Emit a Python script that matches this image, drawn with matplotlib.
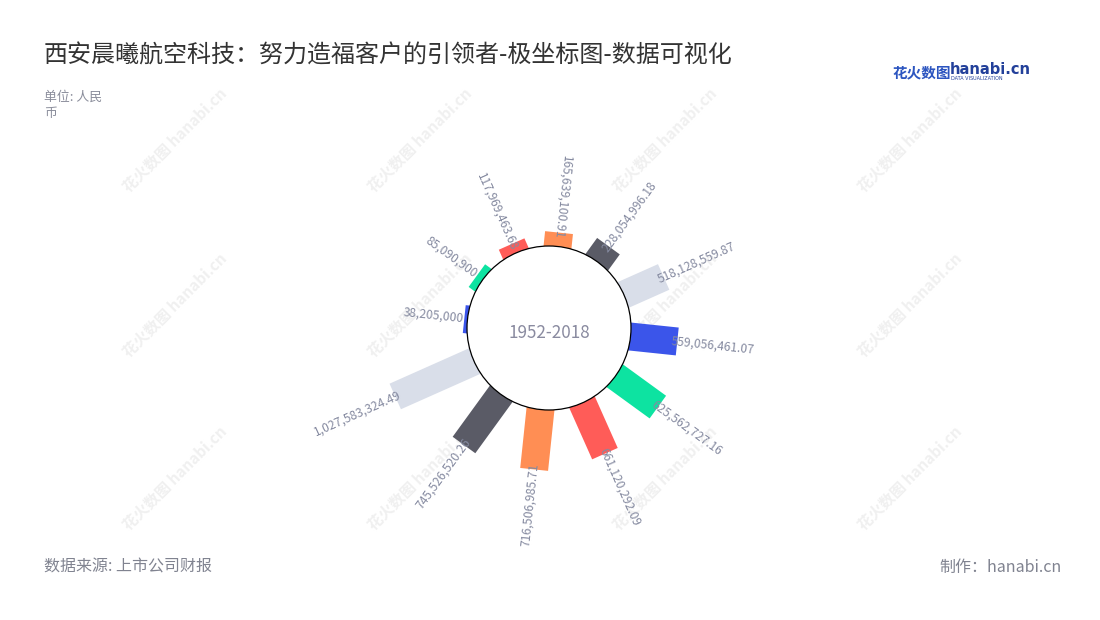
import numpy as np
import matplotlib
matplotlib.use('Agg')
from matplotlib import pyplot as plt
from matplotlib.patches import Polygon, Circle

plt.rcParams['font.family'] = ['Noto Sans CJK SC', 'DejaVu Sans']

values = [38205000, 85090900, 117969463.68, 165639100.91, 228054996.18,
          518128559.87, 559056461.07, 625562727.16, 661120292.09,
          716506985.71, 745526520.26, 1027583324.49]
colors = ['#3b55ea', '#0de3a1', '#ff5c58', '#ff8e54', '#5a5b66', '#d9dee9']
center_label = '1952-2018'

title = '西安晨曦航空科技：努力造福客户的引领者-极坐标图-数据可视化'
unit = '单位: 人民\n币'
source = '数据来源: 上市公司财报'
maker = '制作：hanabi.cn'

fig = plt.figure(figsize=(11, 6.2), dpi=100)

# chart axes, centre at (549, 328) px, 84 px per 1e9
px = 84 / 1e9
half = 250
cx, cy = 549, 328
ax = fig.add_axes([(cx - half) / 1100, (620 - cy - half) / 620, 2 * half / 1100, 2 * half / 620])
R = half / px
ax.set_xlim(-R, R)
ax.set_ylim(-R, R)
ax.set_aspect('equal')
ax.axis('off')

r0 = 82 / px
bw = 28 / px
start = 276  # clockwise from north, first category
for i, v in enumerate(values):
    a = np.deg2rad(90 - (start + 30 * i))
    u = np.array([np.cos(a), np.sin(a)])
    n = np.array([-u[1], u[0]])
    p0 = u * (r0 - 6 / px)
    p1 = u * (r0 + v)
    pts = [p0 + n * bw / 2, p1 + n * bw / 2, p1 - n * bw / 2, p0 - n * bw / 2]
    ax.add_patch(Polygon(pts, closed=True, fc=colors[i % 6], ec='none', zorder=2))
    # label
    ang = np.rad2deg(a) % 360
    off = -6 / px if v * px > 8 else 1 / px
    lp = u * (r0 + v + off)
    flip = 60 < ang < 280
    rot = ang + 180 if flip else ang
    txt = f'{int(v):,}' if v == int(v) else f'{v:,.2f}'
    ax.text(lp[0], lp[1], txt,
            rotation=rot, rotation_mode='anchor', ha='right' if flip else 'left',
            va='center', fontsize=8.7, color='#858aa0', zorder=4, clip_on=False)

ax.add_patch(Circle((0, 0), r0, fc='white', ec='black', lw=0.9, zorder=3))
ax.text(0, -5 / px, center_label, ha='center', va='center', fontsize=12.3, color='#8a8ba0', zorder=4)

# watermarks
for wx in [175, 420, 665, 910]:
    for wy in [140, 305, 478]:
        fig.text(wx / 1100, 1 - wy / 620, '花火数图 hanabi.cn', rotation=45, ha='center', va='center',
                 fontsize=11, fontweight='bold', color='#f0f0f0', zorder=-1)

fig.text(44 / 1100, 1 - 56 / 620, title, fontsize=17.3, color='#333333', va='center', ha='left')
fig.text(44 / 1100, 1 - 91 / 620, unit, fontsize=9.3, color='#8a8d9b', va='top', ha='left', linespacing=1.35)
fig.text(44 / 1100, 1 - 567 / 620, source, fontsize=11.5, color='#808390', va='center', ha='left')
fig.text(1062 / 1100, 1 - 567 / 620, maker, fontsize=11.5, color='#808390', va='center', ha='right')

# logo
fig.text(893 / 1100, 1 - 72 / 620, '花火数图', fontsize=10.5, fontweight='bold', color='#2c55c0', va='center', ha='left')
fig.text(950 / 1100, 1 - 69 / 620, 'hanabi.cn', fontsize=10.5, fontweight='bold', color='#23409a', va='center', ha='left',
         family=['DejaVu Sans'])
fig.text(951 / 1100, 1 - 79 / 620, 'DATA VISUALIZATION', fontsize=3.5, color='#23409a', va='center', ha='left',
         family=['DejaVu Sans'])

fig.savefig('out.png', dpi=100, facecolor='white')
